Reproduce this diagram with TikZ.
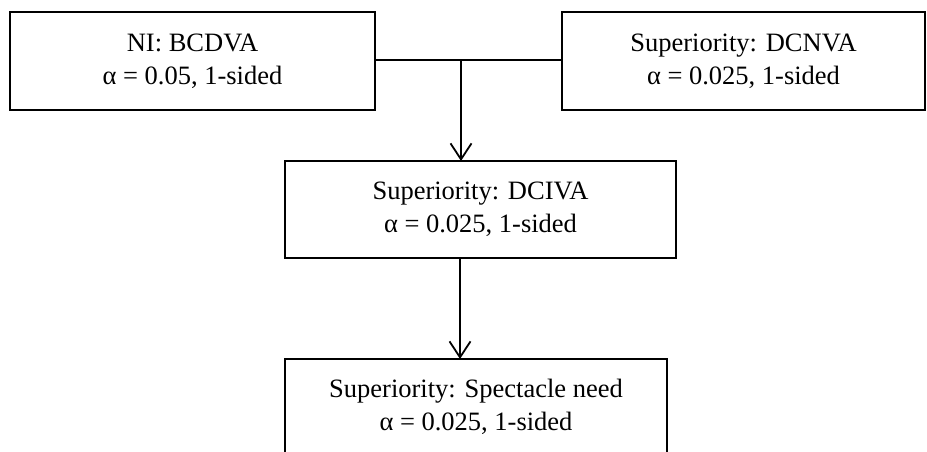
\documentclass[tikz,border=0pt]{standalone}
\usepackage{fontspec}
\setmainfont{Liberation Serif}
\usetikzlibrary{arrows.meta}
\begin{document}
\begin{tikzpicture}[x=1pt,y=-1pt,
  box/.style={draw=black, line width=1.8pt, rectangle, inner sep=0pt, outer sep=0pt,
    align=center, font=\fontsize{26.5}{33}\selectfont},
  conn/.style={draw=black, line width=1.8pt},
  arr/.style={conn, -{Straight Barb[length=16pt,width=21pt,line width=1.8pt]}}]
\useasboundingbox (0,0) rectangle (927,452);
\clip (0,0) rectangle (927,452);
\node[box, minimum width=365pt, minimum height=98pt] (b1) at (192.5,61) {NI: BCDVA\\α = 0.05, 1-sided};
\node[box, minimum width=363pt, minimum height=98pt] (b2) at (743.5,61) {Superiority: DCNVA\\α = 0.025, 1-sided};
\node[box, minimum width=391pt, minimum height=97pt] (b3) at (480.5,209.5) {Superiority: DCIVA\\α = 0.025, 1-sided};
\node[box, minimum width=382pt, minimum height=96pt] (b4) at (476,407) {Superiority: Spectacle need\\α = 0.025, 1-sided};
\coordinate (j) at (461,60);
\draw[conn] (b1.east |- j) -- (b2.west |- j);
\draw[arr] (j) -- (j |- b3.north);
\coordinate (k) at (460,0);
\draw[arr] (k |- b3.south) -- (k |- b4.north);
\end{tikzpicture}
\end{document}
